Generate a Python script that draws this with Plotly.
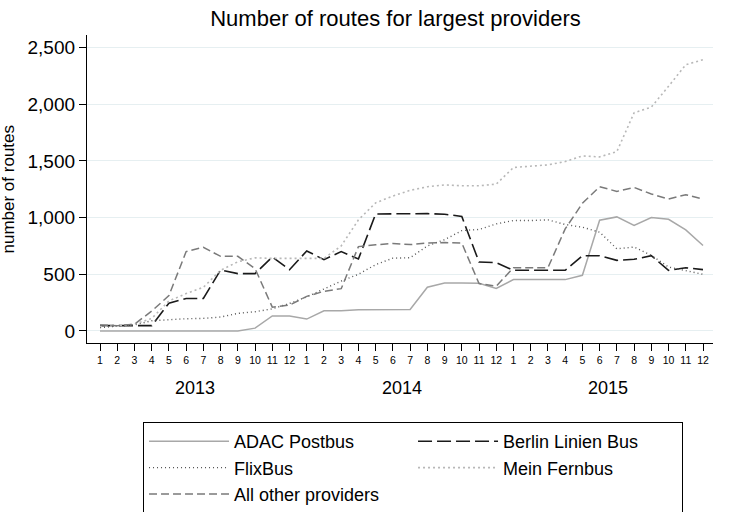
import plotly.graph_objects as go

months = list(range(1, 37))
month_labels = [str(m) for m in range(1, 13)] * 3
years = ["2013", "2014", "2015"]
year_centers = [6.5, 18.5, 30.5]

adac = [0, 0, 0, 0, 0, 0, 0, 0, 0, 25, 133, 133,
        105, 178, 178, 188, 190, 186, 190, 386, 424, 424, 420, 375,
        453, 453, 453, 453, 491, 977, 1006, 930, 1000, 985, 892, 754]
berlin = [47, 47, 47, 47, 245, 287, 287, 538, 506, 506, 652, 540,
          706, 629, 700, 635, 1032, 1035, 1035, 1035, 1030, 1010, 608, 602,
          535, 535, 535, 535, 664, 664, 623, 632, 664, 535, 558, 541]
flixbus = [30, 44, 53, 90, 102, 108, 111, 123, 155, 170, 195, 243,
           301, 370, 440, 500, 585, 642, 646, 750, 805, 885, 895, 944,
           974, 974, 980, 939, 915, 871, 725, 740, 667, 564, 529, 500]
mein = [40, 45, 60, 110, 265, 330, 385, 535, 610, 645, 640, 640,
        645, 640, 750, 980, 1130, 1190, 1240, 1272, 1288, 1280, 1280, 1295,
        1442, 1456, 1465, 1494, 1544, 1535, 1582, 1924, 1974, 2158, 2348, 2392]
others = [53, 47, 60, 175, 312, 700, 738, 658, 658, 550, 210, 228,
          305, 350, 373, 744, 760, 772, 762, 775, 780, 775, 418, 395,
          558, 558, 558, 900, 1126, 1272, 1231, 1266, 1208, 1164, 1202, 1164]

series = [
    ("ADAC Postbus", adac, "#a8a8a8", "solid", 1.5),
    ("Berlin Linien Bus", berlin, "#1a1a1a", "14px,5px", 1.6),
    ("FlixBus", flixbus, "#555555", "1px,3px", 1.4),
    ("Mein Fernbus", mein, "#b8b8b8", "2px,3px", 1.6),
    ("All other providers", others, "#7a7a7a", "8px,4px", 1.5),
]

FONT = "Liberation Sans, Arial, sans-serif"

fig = go.Figure()
for name, vals, color, dash, w in series:
    fig.add_trace(go.Scatter(x=months, y=vals, mode="lines", name=name,
                             line=dict(color=color, dash=dash, width=w)))

fig.update_layout(
    width=731, height=512,
    margin=dict(l=87, r=18, t=35, b=169, autoexpand=False),
    paper_bgcolor="white", plot_bgcolor="white",
    font=dict(family=FONT, color="black"),
    title=dict(text="Number of routes for largest providers",
               x=0.541, xanchor="center", xref="container",
               y=0.964, yanchor="middle", yref="container",
               font=dict(size=22, family=FONT, color="black")),
    xaxis=dict(range=[0.2455, 36.58], tickvals=months, ticktext=month_labels,
               tickfont=dict(size=10.5), ticks="outside", ticklen=7,
               tickwidth=1.3, tickcolor="black", showline=True,
               linecolor="black", linewidth=1.3, showgrid=False,
               zeroline=False, tickangle=0),
    yaxis=dict(range=[-106, 2610], tickvals=[0, 500, 1000, 1500, 2000, 2500],
               ticktext=["0", "500", "1,000", "1,500", "2,000", "2,500"],
               tickfont=dict(size=19), ticks="outside", ticklen=7,
               tickwidth=1.3, tickcolor="black", showline=True,
               linecolor="black", linewidth=1.3, showgrid=True,
               gridcolor="#e6eff1", gridwidth=1.2, zeroline=False),
    legend=dict(orientation="h", x=0.0895, xanchor="left",
                y=-0.2565, yanchor="top", traceorder="normal",
                entrywidth=174, itemwidth=80,
                bordercolor="black", borderwidth=1,
                font=dict(size=18, family=FONT, color="black")),
    showlegend=True,
)

annotations = [dict(text="number of routes", textangle=-90, xref="paper",
                    yref="paper", x=-0.1254, y=0.5, xanchor="center",
                    yanchor="middle", showarrow=False,
                    font=dict(size=17, family=FONT, color="black"))]
for yr, xc in zip(years, year_centers):
    annotations.append(dict(text=yr, x=xc, xref="x", y=-0.146, yref="paper",
                            xanchor="center", yanchor="middle",
                            showarrow=False,
                            font=dict(size=18, family=FONT, color="black")))
fig.update_layout(annotations=annotations)

fig.write_html("out.html",
               config={"displayModeBar": False},
               post_script="document.body.style.margin='0';"
                           "document.body.style.overflow='hidden';")
